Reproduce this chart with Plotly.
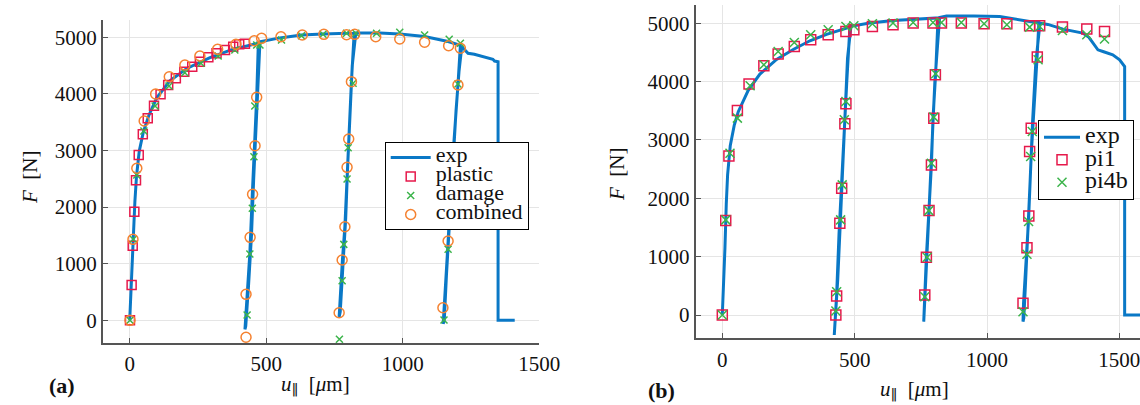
import plotly.graph_objects as go

# ---------------- Panel (a) data ----------------
a_exp_u = [0, 7, 13, 19, 25, 35, 50, 70, 99, 147, 209, 294, 379, 452, 471,
           465, 456, 449, 440, 430, 422,
           425, 435, 446, 454, 461, 469, 477,
           550, 629, 708, 794, 822,
           812, 800, 794, 788, 779, 767,
           771, 782, 791, 798, 806, 815, 828,
           916, 989, 1080, 1166, 1211,
           1202, 1187, 1170, 1166, 1148,
           1152, 1160, 1170, 1180, 1195, 1206, 1216,
           1225, 1239, 1262, 1330, 1336, 1349, 1349, 1410]
a_exp_F = [0, 900, 1500, 2100, 2550, 2990, 3330, 3620, 3930, 4230, 4450, 4640, 4790, 4880, 4895,
           3940, 3085, 2231, 1184, 417, -160,
           -100, 600, 1500, 2500, 3300, 4200, 4922,
           4990, 5040, 5058, 5071, 5075,
           4216, 3000, 2125, 1654, 1065, 60,
           150, 1000, 1800, 2700, 3700, 4500, 5075,
           5078, 5060, 5015, 4925, 4860,
           4157, 3127, 1772, 1389, -60,
           0, 800, 1600, 2600, 3700, 4400, 4830,
           4790, 4717, 4700, 4611, 4580, 4569, 0, 0]

a_plastic_u = [1, 7, 11, 17, 23, 33, 48, 66, 89, 113, 141, 169, 200, 229, 257, 288, 318, 349, 379, 401, 422]
a_plastic_F = [0, 624, 1318, 1919, 2473, 2920, 3286, 3569, 3792, 3993, 4157, 4276, 4392, 4481, 4569,
               4647, 4717, 4776, 4834, 4876, 4887]

a_damage_u = [1, 13, 26, 52, 93, 144, 202, 261, 324, 385, 465, 477,
              458, 455, 449, 440, 430,
              556, 629, 708, 794, 828, 904, 989, 1080, 1170, 1211,
              818, 800, 796, 784, 778, 768,
              1202, 1170, 1166, 1151]
a_damage_F = [0, 1431, 2567, 3345, 3786, 4140, 4375, 4541, 4670, 4776, 4864, 4864,
              3786, 2891, 1979, 1171, 94,
              4952, 5028, 5053, 5071, 5071, 5071, 5088, 5041, 4965, 4894,
              4187, 3049, 2496, 1342, 700, -336,
              4175, 1666, 1254, 5]

a_combined_u = [1, 12, 26, 53, 95, 145, 202, 257, 322, 389, 456, 483,
                465, 459, 450, 441, 426, 426,
                554, 632, 711, 794, 824, 901, 989, 1080, 1168, 1211,
                812, 802, 796, 788, 778, 767,
                1202, 1166, 1147]
a_combined_F = [0, 1431, 2686, 3521, 3998, 4304, 4511, 4670, 4788, 4876, 4940, 4982,
                3940, 3085, 2226, 1466, 459, -300,
                5011, 5041, 5053, 5046, 5053, 5011, 4970, 4912, 4852, 4806,
                4216, 3203, 2703, 1654, 1065, 134,
                4157, 1401, 223]

# ---------------- Panel (b) data ----------------
b_exp_u = [0, 5, 10, 15, 20, 30, 45, 60, 98, 142, 205, 268, 331, 394, 457, 482,
           470, 462, 450, 441, 432, 423,
           426, 436, 446, 455, 464, 473, 486,
           557, 646, 721, 796, 815,
           806, 796, 790, 780, 771, 765, 761,
           764, 770, 777, 786, 794, 803, 821,
           847, 950, 1048, 1161, 1196,
           1189, 1171, 1167, 1157, 1149, 1138, 1136,
           1139, 1145, 1154, 1163, 1172, 1184, 1200,
           1230, 1287, 1362, 1385, 1400, 1419, 1438, 1475, 1501, 1520, 1520, 1600]
b_exp_F = [0, 450, 1150, 1900, 2400, 2900, 3250, 3480, 3850, 4130, 4380, 4550, 4700, 4810, 4890, 4935,
           3974, 3288, 2150, 1400, 350, -343,
           -200, 600, 1600, 2600, 3500, 4400, 4950,
           5003, 5048, 5072, 5089, 5092,
           4134, 3374, 2573, 1801, 1000, 343, -114,
           -50, 600, 1400, 2300, 3100, 4000, 5100,
           5125, 5125, 5117, 5031, 5014,
           4403, 3173, 2744, 1629, 1058, 200, -114,
           -50, 500, 1300, 2300, 3300, 4300, 5000,
           4980, 4900, 4832, 4760, 4660, 4545, 4516, 4460, 4374, 4259, 0, 0]

b_pi1_u = [0, 13, 25, 57, 101, 157, 211, 272, 334, 400, 467, 497,
           467, 463, 451, 444, 432, 429,
           567, 645, 721, 796, 828, 903, 989, 1075, 1161, 1199, 1285, 1377, 1444,
           805, 799, 790, 781, 771, 765,
           1190, 1167, 1161, 1158, 1151, 1136]
b_pi1_F = [0, 1618, 2727, 3505, 3957, 4271, 4472, 4602, 4717, 4803, 4860, 4889,
           3619, 3276, 2173, 1572, 326, 0,
           4945, 4974, 5003, 5003, 5003, 5003, 4991, 4991, 4957, 4957, 4934, 4900, 4860,
           4117, 3374, 2573, 1789, 990, 343,
           4420, 3202, 2801, 1698, 1154, 200]

b_pi4b_u = [0, 13, 29, 57, 105, 157, 211, 272, 334, 400, 467, 497,
            467, 461, 453, 447, 432, 429,
            567, 645, 721, 796, 828, 903, 989, 1075, 1161, 1199, 1285, 1377, 1444,
            806, 799, 790, 780, 774, 765,
            1193, 1171, 1165, 1157, 1151, 1136]
b_pi4b_F = [0, 1630, 2773, 3374, 3928, 4288, 4516, 4671, 4803, 4889, 4945, 4957,
            3659, 3345, 2230, 1630, 400, 69,
            4991, 5003, 5014, 5014, 5014, 5014, 4991, 4974, 4934, 4945, 4877, 4803, 4729,
            4134, 3391, 2601, 1789, 990, 314,
            4374, 3144, 2716, 1601, 1041, 57]

x_ticks = [0, 500, 1000, 1500]
y_ticks = [0, 1000, 2000, 3000, 4000, 5000]

BLUE = "#0a78c6"
RED = "#e6194b"
GREEN = "#3cb44b"
ORANGE = "#f58231"
FONT = "Liberation Serif, Times New Roman, DejaVu Serif, serif"


def big(name, px):
    return f"<span style='font-size:{px}px'>{name}</span>"


fig = go.Figure()

fig.add_trace(go.Scatter(x=a_exp_u, y=a_exp_F, mode="lines", name=big("exp", 22),
                         line=dict(color=BLUE, width=3), xaxis="x", yaxis="y", legend="legend"))
fig.add_trace(go.Scatter(x=a_plastic_u, y=a_plastic_F, mode="markers", name=big("plastic", 22),
                         marker=dict(symbol="square-open", size=9, color=RED, line=dict(width=1.5)),
                         xaxis="x", yaxis="y", legend="legend"))
fig.add_trace(go.Scatter(x=a_damage_u, y=a_damage_F, mode="markers", name=big("damage", 22),
                         marker=dict(symbol="x-thin-open", size=7, color=GREEN, line=dict(width=1.5, color=GREEN)),
                         xaxis="x", yaxis="y", legend="legend"))
fig.add_trace(go.Scatter(x=a_combined_u, y=a_combined_F, mode="markers", name=big("combined", 22),
                         marker=dict(symbol="circle-open", size=10, color=ORANGE, line=dict(width=1.5)),
                         xaxis="x", yaxis="y", legend="legend"))

fig.add_trace(go.Scatter(x=b_exp_u, y=b_exp_F, mode="lines", name=big("exp", 24),
                         line=dict(color=BLUE, width=3), xaxis="x2", yaxis="y2", legend="legend2"))
fig.add_trace(go.Scatter(x=b_pi1_u, y=b_pi1_F, mode="markers", name=big("pi1", 24),
                         marker=dict(symbol="square-open", size=10, color=RED, line=dict(width=1.5)),
                         xaxis="x2", yaxis="y2", legend="legend2"))
fig.add_trace(go.Scatter(x=b_pi4b_u, y=b_pi4b_F, mode="markers", name=big("pi4b", 24),
                         marker=dict(symbol="x-thin-open", size=9, color=GREEN, line=dict(width=1.5, color=GREEN)),
                         xaxis="x2", yaxis="y2", legend="legend2"))

W, H = 1140, 405
axis_common = dict(showgrid=True, gridcolor="#e5e5e5", gridwidth=1, zeroline=False,
                   showline=True, linecolor="#555555", linewidth=2, automargin=False,
                   ticklabeloverflow="allow",
                   ticks="inside", ticklen=5, tickcolor="#555555", tickwidth=1,
                   tickfont=dict(family=FONT, size=21, color="#111111"))


def ann(text, x, y, size=21, angle=0):
    return dict(text=text, x=x / W, y=1 - y / H, xref="paper", yref="paper",
                xanchor="center", yanchor="middle", textangle=angle, showarrow=False,
                font=dict(family=FONT, size=size, color="#111111"))


fig.update_layout(
    template="none",
    width=W, height=H, autosize=False, margin=dict(l=0, r=0, t=0, b=0, pad=0),
    paper_bgcolor="white", plot_bgcolor="white",
    font=dict(family=FONT, color="#111111"),
    xaxis=dict(domain=[103 / W, 539.3 / W], range=[-97.8, 1500], tickvals=x_ticks,
               anchor="y", **axis_common),
    yaxis=dict(domain=[1 - 343.3 / H, 1 - 20 / H], range=[-406, 5306], tickvals=y_ticks,
               anchor="x", **axis_common),
    xaxis2=dict(domain=[695.7 / W, 1.0], range=[-100.5, 1578], tickvals=x_ticks,
                anchor="y2", ticklabelstandoff=2, **axis_common),
    yaxis2=dict(domain=[1 - 338 / H, 1 - 5 / H], range=[-394, 5313], tickvals=y_ticks,
                anchor="x2", **axis_common),
    legend=dict(x=384.7 / W, y=1 - 142 / H, xanchor="left", yanchor="top",
                bgcolor="white", bordercolor="black", borderwidth=1, itemwidth=40,
                font=dict(family=FONT, size=12, color="#111111"), tracegroupgap=0),
    legend2=dict(x=1134 / W, y=1 - 120 / H, xanchor="right", yanchor="top",
                 bgcolor="white", bordercolor="black", borderwidth=1, itemwidth=36,
                 font=dict(family=FONT, size=15, color="#111111"), tracegroupgap=0),
    annotations=[
        ann("<i>F</i>  [N]", 30, 178, angle=-90),
        ann("<i>F</i>  [N]", 617, 175, angle=-90),
        ann("<i>u</i><sub>∥</sub>  [<i>μ</i>m]", 315, 385),
        ann("<i>u</i><sub>∥</sub>  [<i>μ</i>m]", 914, 390),
        ann("<b>(a)</b>", 62, 385, size=22),
        ann("<b>(b)</b>", 661, 390, size=22),
    ],
)

fig.write_html("out.html", config={"responsive": False})
